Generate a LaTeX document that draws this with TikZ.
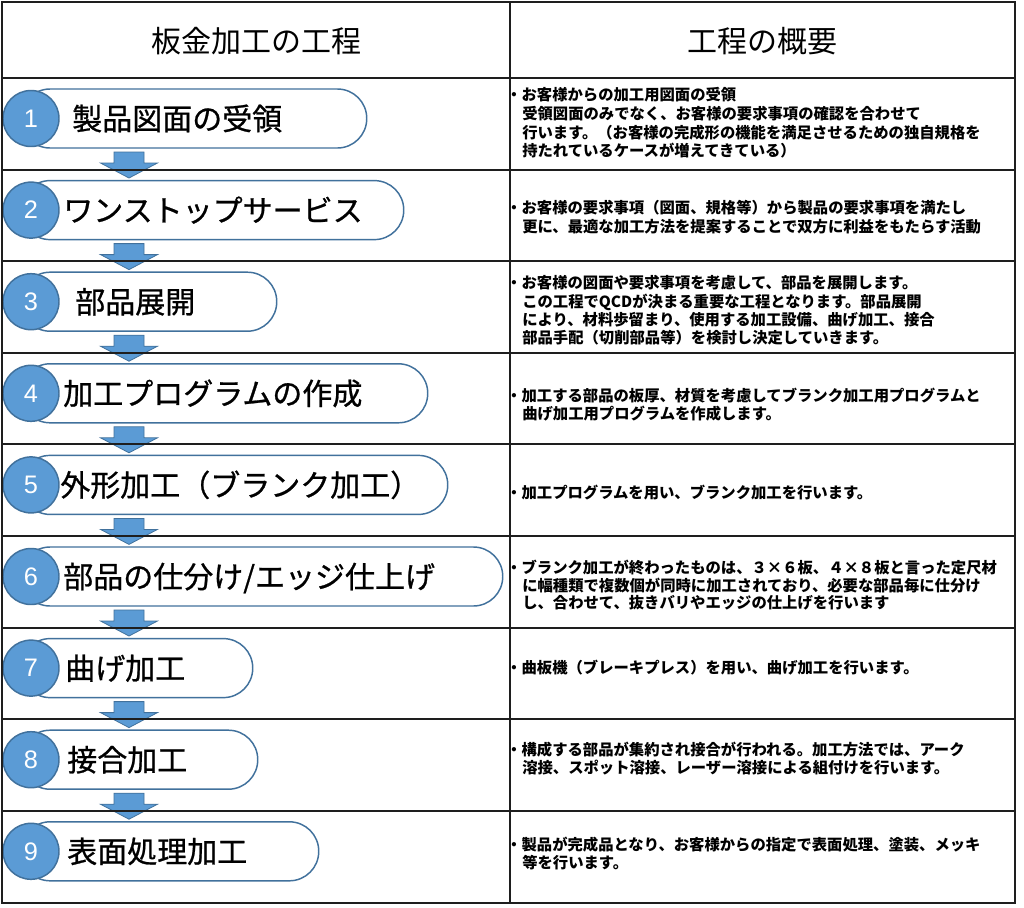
\documentclass[tikz,border=0pt]{standalone}
\usepackage{fontspec}
\setmainfont{Liberation Sans}
\newfontfamily\jp{Noto Sans CJK JP}
\newfontfamily\jpstep[FakeBold=0.8]{Noto Sans CJK JP}
\definecolor{cfill}{HTML}{5B9BD5}
\definecolor{cline}{HTML}{41719C}
\definecolor{gridc}{HTML}{1E1E1E}
\tikzset{
  gridline/.style={draw=gridc, line width=1.5pt},
  capsule/.style={draw=cline, line width=1.1pt, fill=white, rounded corners=22pt,
    minimum height=44.25pt, inner sep=0pt, anchor=west},
  numcirc/.style={circle, draw=cline, line width=1.1pt, fill=cfill, minimum size=42pt,
    inner sep=0pt, text=white, font=\fontsize{19pt}{19pt}\selectfont},
  steplabel/.style={anchor=base west, inner sep=0pt, font=\jpstep\fontsize{22.5pt}{22.5pt}\selectfont},
  desc/.style={anchor=base west, inner sep=0pt, font=\jp\bfseries\fontsize{11.5pt}{11.5pt}\selectfont},
  flowarrow/.style={fill=cfill, draw=cline, line width=0.6pt, line join=miter},
  headlabel/.style={inner sep=0pt, font=\jp\fontsize{22.5pt}{22.5pt}\selectfont}
}
\begin{document}
\begin{tikzpicture}[x=0.75pt,y=-0.75pt]
\useasboundingbox (0,0) rectangle (1024,907);
\fill[white] (0,0) rectangle (1024,907);

% headers
\node[headlabel] (h1) at (256,41) {板金加工の工程};
\node[headlabel] (h2) at (762,41) {工程の概要};

% step capsules
\foreach \i/\r/\tx/\lbl in {1/366/72/製品図面の受領, 2/403/63/ワンストップサービス,
  3/276/75/部品展開, 4/427/63/加工プログラムの作成, 5/447/60/外形加工（ブランク加工）,
  6/502/63/{部品の仕分け/エッジ仕上げ}, 7/252/65/曲げ加工, 8/257/67/接合加工, 9/318/67/表面処理加工}
{
  \pgfmathsetmacro\c{78+91.6*(\i-1)+40.5}
  \pgfmathsetmacro\w{(\r-20)*0.75}
  \node[capsule, minimum width=\w pt] (cap\i) at (20,\c) {};
  \node[numcirc] (num\i) at (31,\c) {\i};
  \node[steplabel] (lab\i) at (\tx,\c+11.4) {\lbl};
}

% flow arrows
\foreach \i in {1,...,8}
{
  \pgfmathsetmacro\a{78+91.6*(\i-1)+74}
  \draw[flowarrow] (114,\a) -- (144,\a) -- (144,\a+11) -- (157.5,\a+11) -- (129,\a+26)
    -- (100.5,\a+11) -- (114,\a+11) -- cycle;
}

% table grid
\draw[gridline] (2,2) rectangle (1015,903);
\draw[gridline] (510,2) -- (510,903);
\draw[gridline] (2,78) -- (1015,78);
\foreach \i in {1,...,8}
{
  \pgfmathsetmacro\yy{78+91.6*\i}
  \draw[gridline] (2,\yy) -- (1015,\yy);
}

% descriptions
\foreach \x/\y/\s [count=\k] in {
  506/95/・お客様からの加工用図面の受領,
  522/114/受領図面のみでなく、お客様の要求事項の確認を合わせて,
  522/133/行います。（お客様の完成形の機能を満足させるための独自規格を,
  522/151/持たれているケースが増えてきている）,
  506/208/・お客様の要求事項（図面、規格等）から製品の要求事項を満たし,
  522/227/更に、最適な加工方法を提案することで双方に利益をもたらす活動,
  506/283/・お客様の図面や要求事項を考慮して、部品を展開します。,
  522/302/この工程でQCDが決まる重要な工程となります。部品展開,
  522/320/により、材料歩留まり、使用する加工設備、曲げ加工、接合,
  522/338/部品手配（切削部品等）を検討し決定していきます。,
  506/396/・加工する部品の板厚、材質を考慮してブランク加工用プログラムと,
  522/414/曲げ加工用プログラムを作成します。,
  506/493/・加工プログラムを用い、ブランク加工を行います。,
  506/568/・ブランク加工が終わったものは、３×６板、４×８板と言った定尺材,
  522/586/に幅種類で複数個が同時に加工されており、必要な部品毎に仕分け,
  522/603/し、合わせて、抜きバリやエッジの仕上げを行います,
  506/668/・曲板機（ブレーキプレス）を用い、曲げ加工を行います。,
  506/750/・構成する部品が集約され接合が行われる。加工方法では、アーク,
  522/768/溶接、スポット溶接、レーザー溶接による組付けを行います。,
  506/845/・製品が完成品となり、お客様からの指定で表面処理、塗装、メッキ,
  522/863/等を行います。}
{
  \node[desc] (d\k) at (\x,\y+5.8) {\s};
}
\end{tikzpicture}
\end{document}
